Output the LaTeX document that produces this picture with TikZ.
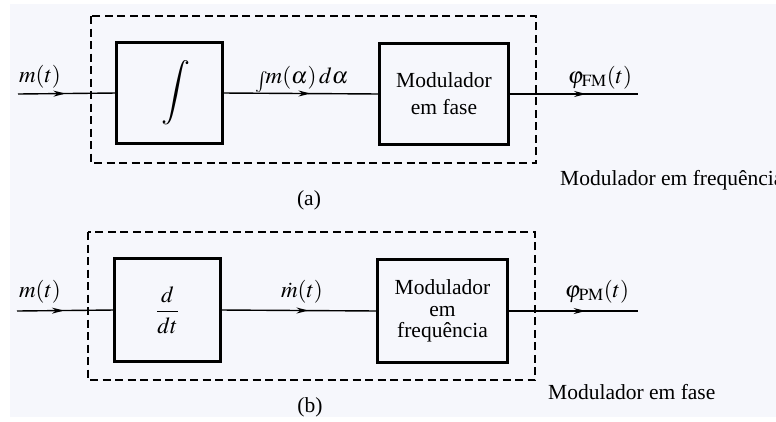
\documentclass[tikz,border=0pt]{standalone}
\usepackage{mathptmx}
\usepackage{fontspec}
\setmainfont{Liberation Serif}
\usepackage{graphicx}
\usetikzlibrary{arrows.meta,decorations.markings}

\definecolor{paper}{RGB}{246,247,252}

% slanted integral signs taken from cmex, scaled up
\newcommand{\bigintsign}{\scalebox{2.9}{\usefont{OMX}{cmex}{m}{n}\char"5A}}
\newcommand{\txtintsign}{\raisebox{12pt}{\scalebox{1.9}{\usefont{OMX}{cmex}{m}{n}\char"52}}\kern1pt}

\tikzset{
  lbl/.style={font=\fontsize{21.5}{24}\selectfont, inner sep=0pt},
  mlbl/.style={font=\fontsize{23}{26}\selectfont, inner sep=0pt},
  block/.style={inner sep=0pt, align=center, font=\fontsize{21.5}{24}\selectfont},
  blockline/.style={draw, line width=3pt},
  frame/.style={draw, line width=1.2pt, dash pattern=on 8pt off 4.5pt},
  wire/.style={line width=1.4pt},
  midarrow/.style={wire, postaction={decorate}, decoration={markings,
      mark=at position #1 with {\arrow{Stealth[length=12pt,width=6pt]}}}},
}

\begin{document}
\begin{tikzpicture}[x=1pt,y=-1pt]
  % page and paper tone
  \useasboundingbox (0,0) rectangle (776,421);
  \fill[white] (0,0) rectangle (776,421);
  \fill[paper] (10,4) rectangle (776,417);

  % ---------- (a) frequency modulator built from a phase modulator ----------
  \draw[frame] (91,16) rectangle (536,163);
  \node[block, minimum width=105pt, minimum height=101pt] (integ) at (169.5,93)
    {\bigintsign};
  \node[block, minimum width=128pt, minimum height=100pt, font=\fontsize{21.5}{27}\selectfont]
    (pm) at (444,94) {Modulador\\em fase};
  \draw[blockline] (integ.south west) rectangle (integ.north east);
  \draw[blockline] (pm.south west) rectangle (pm.north east);
  \coordinate (ina) at (18,94);
  \coordinate (outa) at (638,94);
  \draw[midarrow=0.48] (ina) -- (integ.west);
  \draw[midarrow=0.56] (integ.east) -- (pm.west);
  \draw[midarrow=0.6] (pm.east) -- (outa);

  \node[mlbl, anchor=base] (ma) at (40,82) {$m(t)$};
  \node[mlbl, anchor=base] (ia) at (302,83) {\txtintsign$m(\alpha)\,d\alpha$};
  \node[mlbl, anchor=base] (fa) at (600,83) {$\varphi_{\mathrm{FM}}(t)$};
  \node[lbl, anchor=base west] (ta) at (560,185) {Modulador em frequência};
  \node[lbl, anchor=base] (capa) at (309,205) {(a)};

  % ---------- (b) phase modulator built from a frequency modulator ----------
  \draw[frame] (88,232) rectangle (535,380);
  \node[block, minimum width=105pt, minimum height=102pt, font=\fontsize{23}{26}\selectfont]
    (diff) at (167.5,310) {$\displaystyle\frac{d}{dt}$};
  \node[block, minimum width=129pt, minimum height=102pt, font=\fontsize{21.5}{21.5}\selectfont]
    (fm) at (442.5,311) {Modulador\\em\\frequência};
  \draw[blockline] (diff.south west) rectangle (diff.north east);
  \draw[blockline] (fm.south west) rectangle (fm.north east);
  \coordinate (inb) at (17,311);
  \coordinate (outb) at (638,311);
  \draw[midarrow=0.48] (inb) -- (diff.west);
  \draw[midarrow=0.56] (diff.east) -- (fm.west);
  \draw[midarrow=0.6] (fm.east) -- (outb);

  \node[mlbl, anchor=base] (mb) at (40,297) {$m(t)$};
  \node[mlbl, anchor=base] (db) at (302,297) {$\dot m(t)$};
  \node[mlbl, anchor=base] (fb) at (597,297) {$\varphi_{\mathrm{PM}}(t)$};
  \node[lbl, anchor=base west] (tb) at (548,399) {Modulador em fase};
  \node[lbl, anchor=base] (capb) at (310,412) {(b)};
\end{tikzpicture}
\end{document}
